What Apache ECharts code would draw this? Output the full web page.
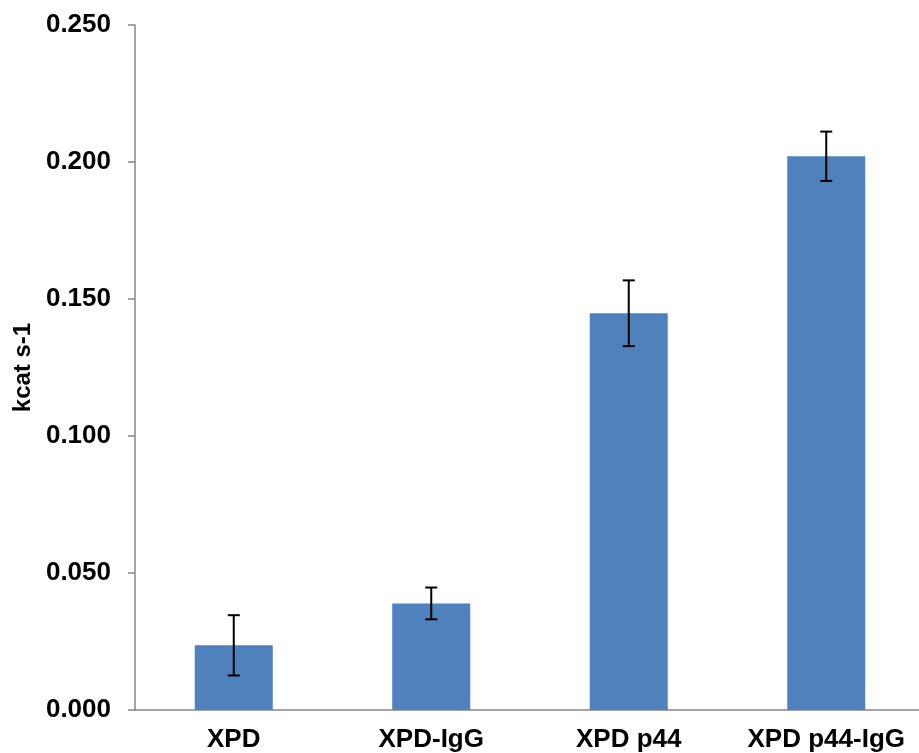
<!DOCTYPE html>
<html><head><meta charset="utf-8">
<script src="https://cdn.jsdelivr.net/npm/echarts@6/dist/echarts.min.js"></script>
<style>html,body{margin:0;padding:0;background:#fff}#c{width:919px;height:753px}</style>
</head><body><div id="c"></div>
<script>
const categories = ['XPD', 'XPD-IgG', 'XPD p44', 'XPD p44-IgG'];
const values = [0.0236, 0.0389, 0.1448, 0.2021];
const errors = [0.011, 0.0058, 0.012, 0.009];

const chart = echarts.init(document.getElementById('c'));
const errData = categories.map((c, i) => [i, values[i] - errors[i], values[i] + errors[i]]);
chart.setOption({
  animation: false,
  grid: { left: 135, right: -6, top: 25, bottom: 43, containLabel: false, outerBoundsMode: 'none' },
  xAxis: {
    type: 'category', data: categories,
    axisLine: { lineStyle: { color: '#868686', width: 1.5 } },
    axisTick: { show: false },
    axisLabel: { interval: 0, hideOverlap: false, color: '#000', fontFamily: 'Liberation Sans, Arial', fontWeight: 'bold', fontSize: 26, margin: 17 }
  },
  yAxis: {
    type: 'value', min: 0, max: 0.25, interval: 0.05,
    name: 'kcat s-1', nameLocation: 'middle', nameGap: 99,
    nameTextStyle: { color: '#000', fontFamily: 'Liberation Sans, Arial', fontWeight: 'bold', fontSize: 24 },
    axisLine: { show: true, lineStyle: { color: '#868686', width: 1.5 } },
    axisTick: { show: true, length: 7, lineStyle: { color: '#868686', width: 1.5 } },
    splitLine: { show: false },
    axisLabel: { color: '#000', fontFamily: 'Liberation Sans, Arial', fontWeight: 'bold', fontSize: 26, margin: 24,
      formatter: v => v.toFixed(3) }
  },
  series: [
    { type: 'bar', data: values, barWidth: '39.5%', itemStyle: { color: '#4F81BD' } },
    { type: 'custom', data: errData, z: 10,
      renderItem: function (params, api) {
        const x = api.value(0);
        const lo = api.coord([x, api.value(1)]);
        const hi = api.coord([x, api.value(2)]);
        const hw = 6;
        const st = { stroke: '#000', lineWidth: 2 };
        return { type: 'group', children: [
          { type: 'line', shape: { x1: lo[0], y1: lo[1], x2: hi[0], y2: hi[1] }, style: st },
          { type: 'line', shape: { x1: hi[0] - hw, y1: hi[1], x2: hi[0] + hw, y2: hi[1] }, style: st },
          { type: 'line', shape: { x1: lo[0] - hw, y1: lo[1], x2: lo[0] + hw, y2: lo[1] }, style: st }
        ]};
      }
    }
  ]
});
</script></body></html>
